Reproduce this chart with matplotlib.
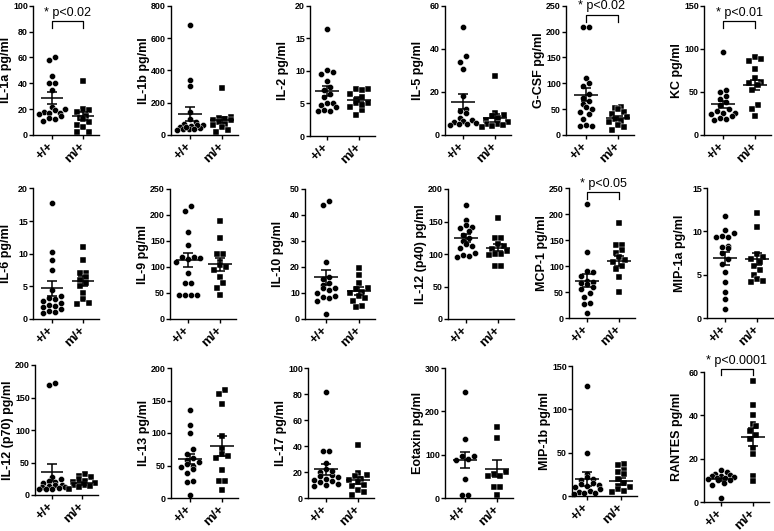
import numpy as np
import matplotlib
matplotlib.use('Agg')
import matplotlib.pyplot as plt

plt.rcParams['font.family'] = ['Liberation Sans', 'DejaVu Sans']

# ---- data (values in pg/ml) ----
groups = ['+/+', 'm/+']

labels = ['IL-1a pg/ml', 'IL-1b pg/ml', 'IL-2 pg/ml', 'IL-5 pg/ml', 'G-CSF pg/ml', 'KC pg/ml',
          'IL-6 pg/ml', 'IL-9 pg/ml', 'IL-10 pg/ml', 'IL-12 (p40) pg/ml', 'MCP-1 pg/ml', 'MIP-1a pg/ml',
          'IL-12 (p70) pg/ml', 'IL-13 pg/ml', 'IL-17 pg/ml', 'Eotaxin pg/ml', 'MIP-1b pg/ml', 'RANTES pg/ml']
ymax = [100, 800, 20, 60, 250, 150,
        20, 250, 50, 200, 250, 15,
        200, 200, 100, 300, 150, 60]
ystep = [20, 200, 5, 20, 50, 50,
         5, 50, 10, 50, 50, 5,
         50, 50, 20, 100, 50, 20]

wt_vals = [
    [60, 58, 45.5, 40, 40.5, 35, 22, 20, 19, 18, 17, 17, 16, 15, 13, 12, 11],
    [680, 340, 305, 140, 100, 80, 70, 60, 55, 50, 45, 40, 35, 30, 60, 50, 40],
    [16.5, 10.2, 9.9, 9.5, 8.5, 7.5, 7, 6.5, 5, 5, 4.8, 4.5, 4, 3.8, 3.8, 6],
    [50, 36.5, 34, 30.5, 18, 12, 11, 10, 8, 7, 6.5, 6, 5.5, 5, 5, 4.5],
    [208, 208, 110, 100, 95, 80, 72, 65, 60, 55, 50, 45, 40, 30, 20, 18, 18],
    [96, 52, 50, 45, 38, 35, 30, 28, 26, 25, 24, 22, 20, 18, 17, 42],
    [17.8, 10.2, 9, 7.5, 4.5, 3.5, 3, 2.8, 2.5, 2.2, 2, 1.8, 1.5, 1.2, 1, 0.9, 3.2],
    [217, 207, 167, 143, 120, 120, 118, 115, 110, 88, 70, 70, 47, 47, 47, 47],
    [45.2, 44, 22, 16, 15.5, 14, 13, 12, 11, 10, 9, 8.5, 8, 7, 2, 12],
    [176, 153, 145, 142, 140, 135, 130, 125, 120, 115, 113, 110, 102, 98, 95, 97],
    [220, 127, 90, 88, 80, 72, 70, 68, 65, 60, 55, 48, 40, 28, 27, 10],
    [11.8, 10.1, 9.8, 9.5, 9.4, 9.3, 8.3, 8.1, 7.5, 6.8, 6.2, 5.3, 4.2, 3.0, 2.2, 1.0, 8.2],
    [170, 172, 28, 25, 22, 20, 18, 16, 15, 14, 13, 12, 11, 10, 10, 9],
    [136, 113, 100, 76, 68, 62, 58, 55, 52, 50, 48, 45, 38, 26, 25, 4],
    [81.5, 36.5, 36, 27, 22, 20, 18, 17, 16, 15, 14, 13, 12, 11, 10, 9, 21],
    [245, 137, 98, 98, 90, 88, 45, 8, 8],
    [127, 50, 25, 22, 20, 18, 15, 14, 13, 12, 10, 8, 6, 5, 4, 3, 2],
    [15, 14, 13, 12.5, 12, 12, 11.5, 11, 11, 10.5, 10, 10, 9, 8, 2],
]
mut_vals = [
    [41.5, 20, 19, 18, 15, 13, 12, 10, 8, 6, 2, 2.5],
    [290, 110, 105, 100, 95, 90, 80, 70, 60, 50, 30, 20],
    [7.2, 7.2, 7, 6.5, 6, 5.5, 5, 5, 4.5, 4, 3.2, 4.8],
    [27.5, 10, 9.5, 9, 8, 7, 6, 5, 5, 4.5, 4, 3.5],
    [55, 52, 50, 45, 40, 35, 30, 28, 25, 20, 15, 10],
    [90, 88, 86, 77, 66, 62, 60, 58, 52, 35, 30, 22],
    [11, 9, 7, 7, 6.5, 6, 5.5, 5, 4, 3, 2.5, 2.3],
    [188, 155, 125, 125, 110, 103, 95, 80, 70, 60, 47, 100],
    [19.5, 17, 14, 12, 11.5, 10.5, 10, 9, 8, 7, 5, 4.5],
    [156, 125, 125, 115, 112, 108, 105, 100, 100, 98, 82, 82],
    [183, 140, 140, 130, 125, 118, 112, 108, 100, 95, 78, 50],
    [12.1, 10.5, 7.4, 7.0, 6.8, 6.5, 6.0, 5.5, 5.0, 4.5, 4.3, 4.2],
    [33, 30, 28, 25, 22, 20, 18, 16, 15, 14, 12, 10],
    [166, 160, 145, 96, 75, 68, 65, 62, 43, 26, 26, 12],
    [40.5, 19, 18, 17, 15, 14, 12, 10, 9, 6, 5, 2],
    [165, 138, 60, 55, 50, 50, 25, 25, 8],
    [37, 36, 30, 28, 25, 20, 15, 12, 10, 8, 6, 5],
    [56, 45, 40, 36, 35, 33, 31, 29, 25, 22, 12, 9.5],
]

mean_wt = [28.5, 130, 6.9, 15.5, 78, 35.5, 4.7, 113, 16, 125, 72, 6.9, 35, 60, 22, 88, 20, 10.5]
sem_wt = [4.5, 45, 0.8, 3.5, 13, 4.5, 1.1, 13, 3, 6, 12, 0.75, 13, 8, 4.5, 18, 8, 0.8]
mean_mut = [14.5, 95, 5.6, 8.0, 33, 58, 5.8, 105, 10.8, 110, 110, 6.8, 18, 80, 13.5, 68, 17, 30]
sem_mut = [3.2, 18, 0.45, 1.8, 4, 6, 0.8, 12, 1.4, 5, 10, 0.7, 2, 15, 3, 19, 4, 4]

# significance annotations: panel index -> text
sig_text = {0: '* p<0.02', 4: '* p<0.02', 5: '* p<0.01', 10: '* p<0.05', 17: '* p<0.0001'}

# ---- layout (pixels in the 774x531 picture) ----
W, H = 774, 531
# left spine x, +/+ x, m/+ x, top y, bottom y
layout = [
    (33, 52, 83, 5.7, 135), (171, 190, 222, 5.7, 135), (310, 327, 359, 5.7, 136),
    (445, 463, 495, 5.7, 135), (566, 586, 618, 5.7, 135), (704, 723, 755, 5.7, 135),
    (33, 52, 83, 188.5, 319), (170, 188, 220, 189, 319), (305, 326, 359, 189, 319),
    (448, 466, 498, 189, 319), (569, 587, 619, 188, 318), (707, 725, 757, 188, 318),
    (35, 52, 82, 365, 495), (171, 190, 222, 368, 498), (308, 326, 358, 368, 498),
    (445, 465, 497, 368, 498), (572, 587, 621, 366, 496), (704, 721, 753, 372, 502),
]
# text bottom, bracket line, bracket foot (fraction of ymax)
bracket = {0: (0.895, 0.88, 0.825), 4: (0.95, 0.928, 0.876), 5: (0.895, 0.884, 0.825),
           10: (0.985, 0.967, 0.915), 17: (1.04, 1.026, 0.975)}


def swarm(vals, top, h_px, s_px, diam=5.4, gap=6.2, half=13.0):
    # GraphPad-like scatter: points close in y share a row, centred on the group
    ypx = np.asarray(vals, float) / top * h_px
    order = np.argsort(ypx)
    xs = np.zeros(len(ypx))
    i = 0
    while i < len(order):
        j = i
        while j + 1 < len(order) and ypx[order[j + 1]] - ypx[order[i]] < diam:
            j += 1
        row = order[i:j + 1]
        n = len(row)
        sp = gap if n < 2 else min(gap, 2 * half / (n - 1))
        row = row[np.argsort(ypx[row])]
        offs = (np.arange(n) - (n - 1) / 2) * sp
        # alternate so neighbouring values don't sit side by side in a line
        xs[row] = offs[np.r_[np.arange(0, n, 2), np.arange(1, n, 2)]]
        i = j + 1
    return xs / s_px


fig = plt.figure(figsize=(W / 100, H / 100), dpi=100)

for k in range(18):
    L, P, M, top, bot = layout[k]
    R = M + 16
    s = M - P
    ax = fig.add_axes([L / W, 1 - bot / H, (R - L) / W, (bot - top) / H])
    ax.set_xlim((L - P) / s, (R - P) / s)
    ax.set_ylim(0, ymax[k])
    h_px = bot - top

    for g, (vals, mk, ms) in enumerate([(wt_vals[k], 'o', 4.4), (mut_vals[k], 's', 4.0)]):
        xo = swarm(vals, ymax[k], h_px, s)
        ax.plot(g + xo, vals, ls='none', marker=mk, ms=ms, color='black',
                mec='white', mew=0.3, clip_on=False, zorder=2)

    for g, (m, e) in enumerate([(mean_wt[k], sem_wt[k]), (mean_mut[k], sem_mut[k])]):
        ax.hlines(m, g - 0.36, g + 0.36, color='black', lw=1.1, zorder=3)
        ax.vlines(g, m - e, m + e, color='black', lw=1.1, zorder=3)
        ax.hlines([m - e, m + e], g - 0.16, g + 0.16, color='black', lw=1.1, zorder=3)

    if k in sig_text:
        yt, yl, yf = [v * ymax[k] for v in bracket[k]]
        ax.plot([0, 0, 1, 1], [yf, yl, yl, yf], color='black', lw=0.9, clip_on=False)
        ax.text(0.5, yt, sig_text[k], ha='center', va='bottom', fontsize=9, clip_on=False)

    ax.set_yticks(np.arange(0, ymax[k] + 0.01, ystep[k]))
    ax.set_xticks([0, 1])
    ax.set_xticklabels(groups, rotation=45, ha='right', va='center',
                       rotation_mode='anchor', fontsize=9.5, fontweight='bold')
    for t in ax.get_yticklabels():
        t.set_fontweight('bold')
        t.set_fontsize(6.4)
    ax.set_ylabel(labels[k], fontsize=9, fontweight='bold', va='center')
    ax.yaxis.set_label_coords(-27.0 / (R - L), 0.5)
    for sp in ['top', 'right']:
        ax.spines[sp].set_visible(False)
    for sp in ['left', 'bottom']:
        ax.spines[sp].set_linewidth(1.0)
    ax.tick_params(axis='both', width=1.0, length=2.6, pad=1.1)
    ax.tick_params(axis='x', length=3, pad=4)

fig.savefig('out.png', dpi=100)
